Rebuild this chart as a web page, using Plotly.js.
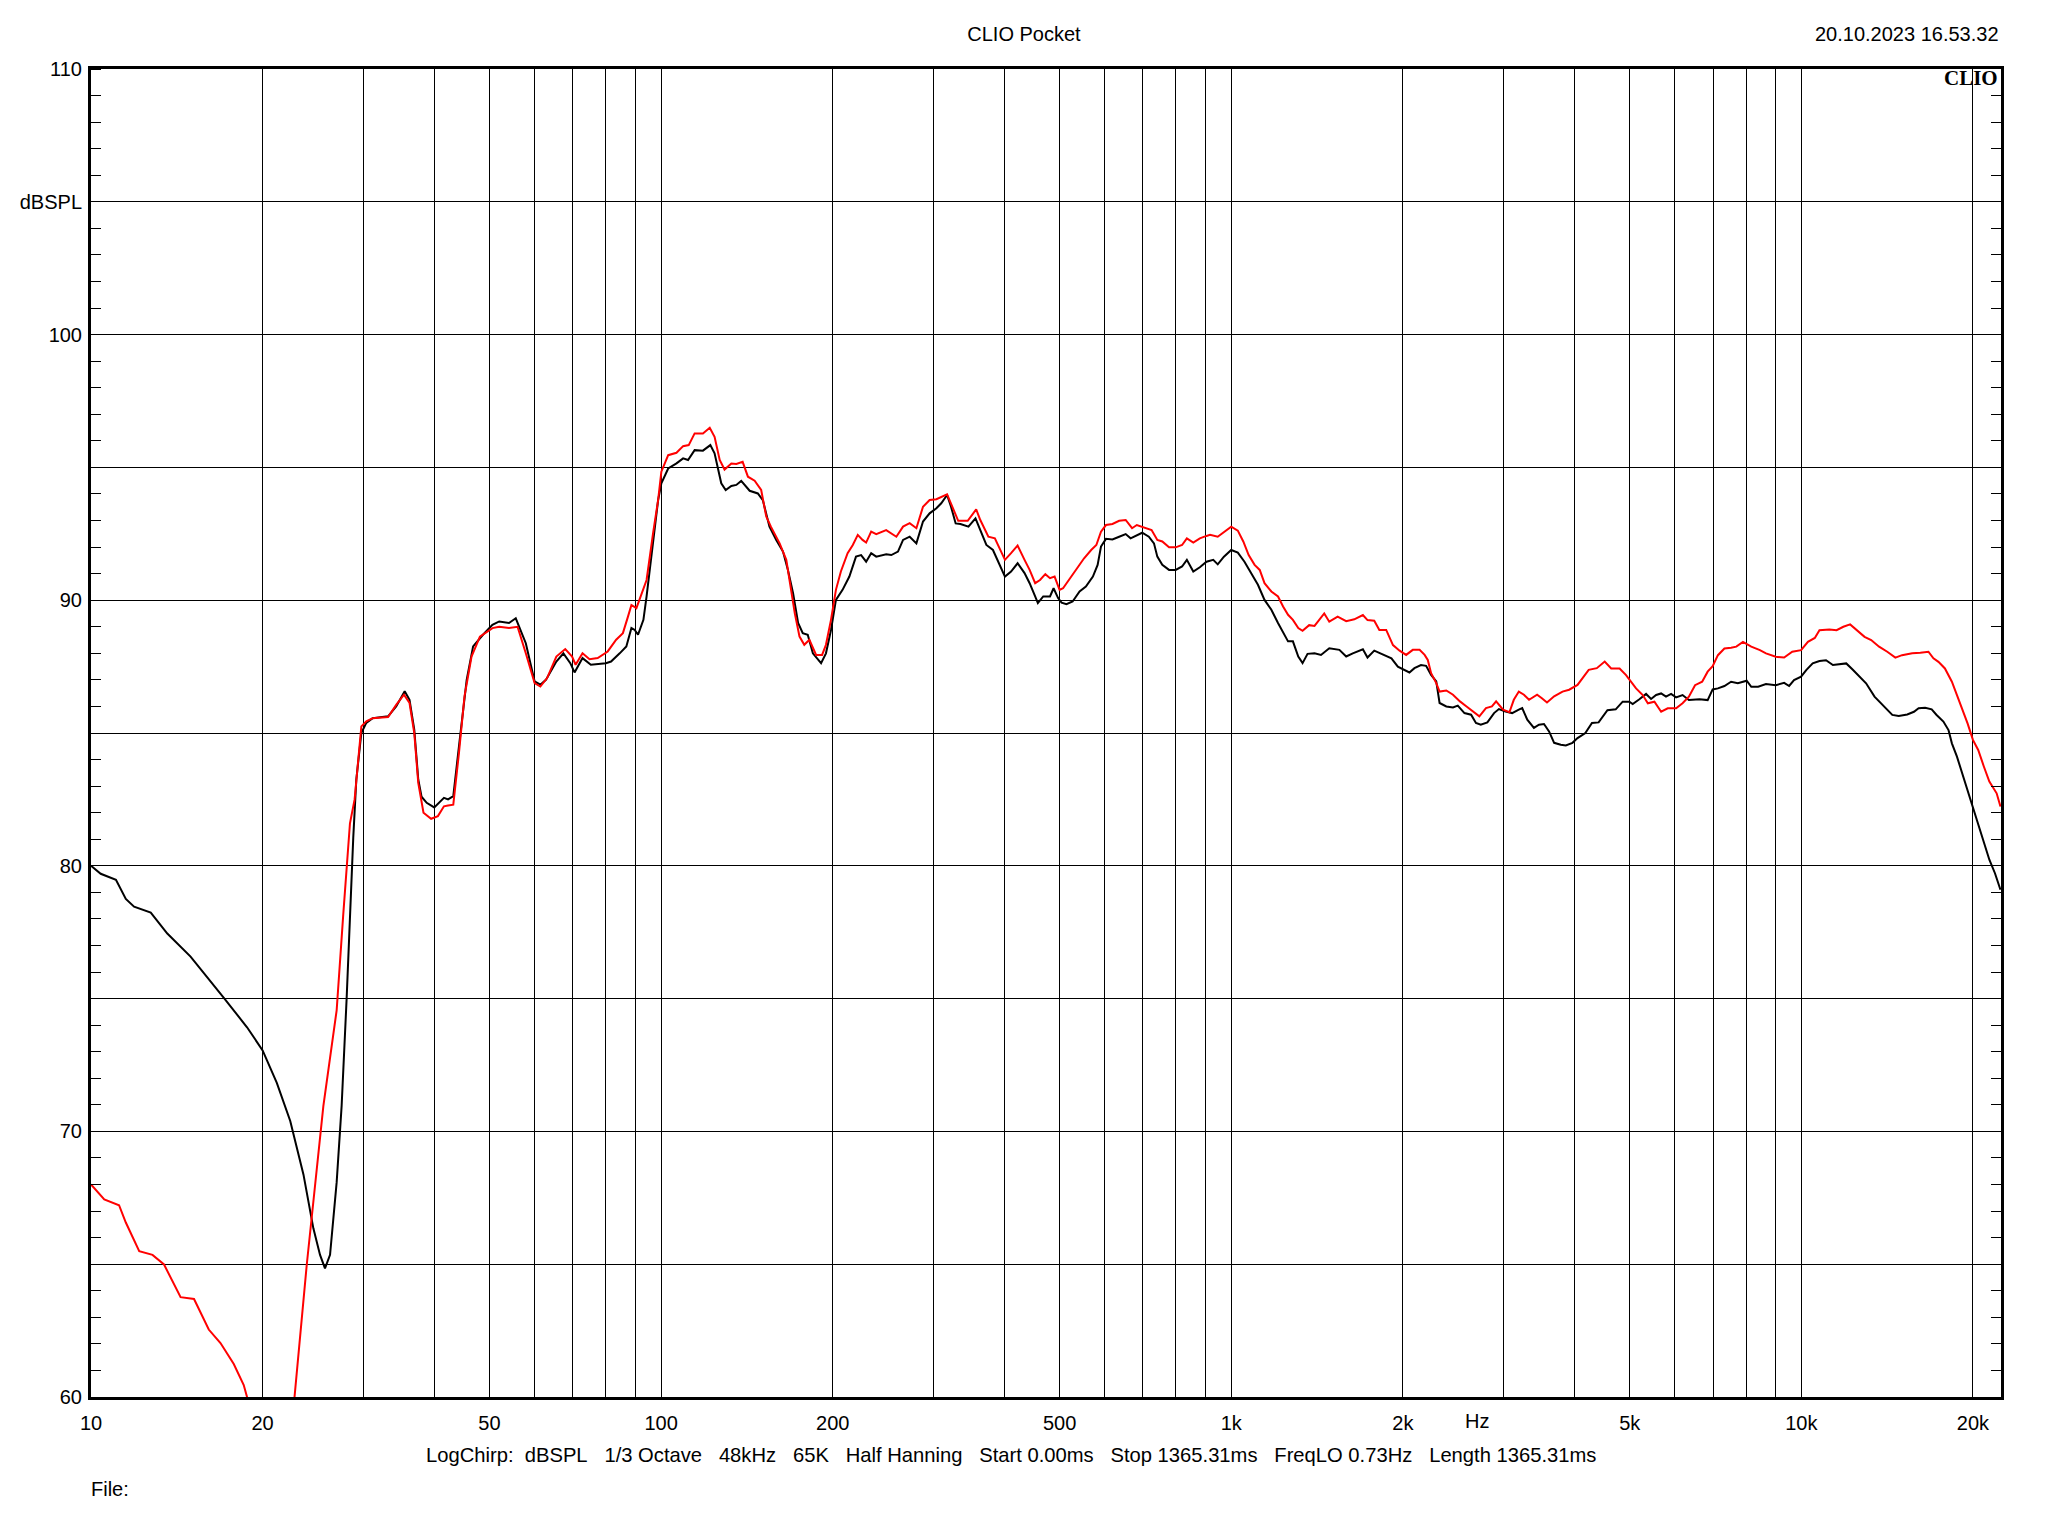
<!DOCTYPE html>
<html>
<head>
<meta charset="utf-8">
<script src="https://cdn.plot.ly/plotly-3.0.1.min.js"></script>
<style>
html,body{margin:0;padding:0;background:#fff;}
#chart{width:2048px;height:1536px;}
</style>
</head>
<body>
<div id="chart"></div>
<script>
// ---- Data ----
const blackFreq = [10,10.4,11.06,11.51,11.9,12.73,13.61,14.95,17.1,18.78,20,21.18,22.36,23.59,24.55,25.22,25.73,26.26,26.97,27.52,28.08,28.46,28.84,29.2,29.8,30.4,31.2,33.2,34.3,35.5,36.2,36.9,37.5,38,38.8,40,41.6,42.3,43.2,44.2,45.6,46.8,48.7,50.6,52,54.1,55.6,57.9,60,61.4,62.8,65.5,67.4,69.3,70.5,72.8,75.3,80,81.7,84.6,86.9,88.7,89.9,91.1,93.1,94.3,96.8,98.8,100.1,102.9,106.4,109.3,111.5,114.5,118.4,122,124.1,125.8,127.5,129.8,132.8,135.5,138.2,143,147.8,150.8,154.9,159.2,163.6,166.9,170.4,173.9,177.2,180.8,184.6,190.8,194.6,198.6,202.6,208.1,213.9,219.7,224.3,228.9,233.6,238.4,248.2,253.4,260.3,265.7,272.9,280.4,288,295.8,304,310,317.4,322.5,328.6,335,346,356,363,372,382,390,401,411,422,434,443,453,458,468,481,488,497,504,514,527,542,556,572,583,591,603,619,636,653,666,680,698,717,732,742,757,778,799,820,836,858,881,905,930,947,971,1000,1027,1055,1084,1114,1144,1176,1208,1233,1258,1283,1311,1334,1361,1400,1437,1486,1548,1591,1634,1702,1734,1782,1846,1910,1960,2000,2054,2096,2152,2197,2242,2289,2320,2384,2449,2497,2565,2635,2687,2740,2814,2891,2948,3028,3110,3195,3239,3306,3396,3466,3537,3610,3685,3785,3863,3968,4050,4180,4293,4410,4570,4725,4860,4993,5061,5199,5342,5451,5563,5677,5790,5910,6030,6190,6350,6630,6850,6990,7140,7330,7530,7740,8020,8170,8400,8670,9020,9330,9520,9710,9990,10200,10470,10760,11050,11360,11670,11990,12300,12640,12990,13440,13780,14060,14440,14820,15340,15760,16060,16490,16930,17270,17750,18120,18370,18750,19150,19570,20000,20430,20900,21370,21860,22180,22350];
const blackDb = [80.0,79.7,79.47,78.75,78.46,78.24,77.45,76.58,75.03,73.92,73.05,71.83,70.39,68.37,66.35,65.35,64.84,65.35,68.08,70.97,75.0,78.17,81.05,83.25,85.0,85.38,85.56,85.63,86.0,86.57,86.25,85.13,83.25,82.6,82.37,82.2,82.56,82.5,82.62,84.5,87.0,88.26,88.7,89.07,89.2,89.14,89.32,88.38,86.94,86.82,87.0,87.69,88.0,87.63,87.28,87.82,87.57,87.63,87.69,88.0,88.26,88.95,88.88,88.7,89.26,90.14,92.14,93.77,94.4,94.96,95.15,95.34,95.28,95.65,95.63,95.84,95.53,94.9,94.4,94.15,94.3,94.34,94.49,94.12,94.02,93.77,92.77,92.27,91.83,91.14,90.26,89.14,88.76,88.7,88.0,87.63,88.0,88.88,90.01,90.39,90.89,91.64,91.7,91.45,91.77,91.64,91.73,91.7,91.83,92.27,92.39,92.14,92.96,93.27,93.46,93.65,93.96,93.52,92.89,92.87,92.77,93.08,92.64,92.08,91.89,91.45,90.89,91.08,91.39,91.02,90.64,90.14,89.89,90.14,90.14,90.45,90.08,89.91,89.85,89.95,90.33,90.51,90.89,91.33,92.02,92.31,92.29,92.39,92.49,92.33,92.42,92.54,92.39,92.14,91.64,91.33,91.14,91.14,91.27,91.52,91.08,91.24,91.45,91.52,91.35,91.64,91.89,91.79,91.45,91.02,90.58,90.01,89.64,89.14,88.76,88.45,88.45,87.88,87.63,87.98,88.0,87.94,88.19,88.13,87.88,88.0,88.15,87.84,88.1,87.96,87.81,87.5,87.4,87.28,87.44,87.56,87.53,87.19,86.94,86.13,86.0,85.96,86.03,85.75,85.69,85.38,85.31,85.4,85.75,85.9,85.81,85.75,85.88,85.94,85.5,85.19,85.31,85.34,85.06,84.63,84.56,84.53,84.63,84.81,85.0,85.38,85.4,85.86,85.89,86.18,86.18,86.09,86.27,86.47,86.28,86.43,86.49,86.37,86.47,86.34,86.43,86.24,86.27,86.24,86.64,86.68,86.77,86.93,86.87,86.97,86.74,86.74,86.84,86.8,86.89,86.77,86.99,87.12,87.37,87.62,87.71,87.74,87.56,87.59,87.62,87.39,87.12,86.87,86.37,86.12,85.93,85.68,85.64,85.7,85.8,85.93,85.95,85.89,85.68,85.43,85.11,84.61,84.11,83.48,82.86,82.23,81.6,80.85,80.23,79.72,79.29,79.1];

const redFreq = [10,10.55,11.2,11.51,12.15,12.82,13.43,14.36,15.16,16.09,16.87,17.8,18.53,18.78,19.5,21.0,22.75,23.9,25.56,26.97,27.7,28.46,29.0,29.8,30.4,31.2,33.2,34.3,35.4,36.2,36.9,37.5,38.3,39.5,40.6,41.6,42.3,43.2,44.2,45.2,46.5,48.1,50.6,52,54.1,56,57.9,60,61.4,63.1,65.5,67.9,69.8,70.8,72.8,74.9,77.4,80.6,83.4,85.7,87.5,88.7,90.5,92.4,94.3,96.8,98.8,100.1,102.9,106.4,109.3,111.8,114.5,118.4,121.7,124.1,126.7,129.2,132.8,135.5,139,142,145.9,149.8,152.9,155.8,161.4,165.8,169.2,171.6,174.9,178.3,182,187,191.6,194.6,198.6,202.6,206.7,212.4,216.9,221.3,225.6,228.9,233.6,238.4,248.2,258.6,265.7,272.9,280.4,288,295.8,304,317.4,322.5,332,345,357,363,375,385,393,401,411,422,434,443,453,462,472,481,490,500,507,524,538,552,568,580,591,603,619,636,653,670,683,709,725,742,757,778,799,820,836,858,881,905,918,947,971,1000,1027,1050,1073,1099,1122,1144,1176,1208,1233,1258,1283,1311,1334,1370,1400,1428,1456,1486,1537,1591,1644,1702,1734,1782,1819,1870,1922,1974,2027,2082,2140,2184,2212,2242,2289,2320,2384,2449,2519,2587,2653,2724,2798,2866,2915,2998,3076,3131,3195,3262,3330,3440,3507,3580,3685,3812,3915,4050,4155,4237,4378,4520,4640,4800,4927,5027,5130,5270,5380,5525,5677,5830,6030,6190,6350,6510,6700,6850,6990,7140,7330,7530,7690,7900,8170,8460,8670,9020,9330,9640,9990,10270,10560,10760,11200,11530,11850,12180,12500,12910,13260,13690,14150,14620,15020,15650,16170,16710,17050,17400,17860,18370,18750,19150,19570,20000,20430,20900,21370,22010,22350];
const redDb = [68.0,67.44,67.22,66.57,65.49,65.35,64.99,63.76,63.69,62.54,62.03,61.24,60.45,60.0,58.5,56.5,60.0,64.97,70.95,74.56,78.17,81.6,82.5,85.25,85.44,85.56,85.6,86.06,86.44,86.13,85.0,83.12,82.0,81.77,81.87,82.24,82.27,82.3,84.25,86.38,87.88,88.63,88.95,89.0,88.95,89.0,88.0,86.88,86.75,87.07,87.88,88.16,87.88,87.57,88.0,87.78,87.82,88.07,88.51,88.76,89.39,89.82,89.7,90.26,90.76,92.52,93.77,94.84,95.46,95.55,95.8,95.84,96.28,96.28,96.49,96.15,95.28,94.92,95.15,95.13,95.21,94.65,94.5,94.15,93.15,92.77,92.14,91.52,90.39,89.51,88.63,88.32,88.51,87.94,87.94,88.32,89.26,90.39,91.08,91.77,92.08,92.46,92.27,92.17,92.58,92.49,92.64,92.39,92.77,92.9,92.71,93.52,93.77,93.8,93.99,93.65,92.99,92.99,93.42,93.02,92.39,92.33,91.95,91.52,91.77,92.06,91.52,91.14,90.64,90.76,90.98,90.83,90.89,90.39,90.45,90.89,91.27,91.58,91.89,92.08,92.58,92.83,92.87,92.99,93.02,92.71,92.83,92.71,92.64,92.27,92.21,91.99,91.99,92.08,92.33,92.17,92.33,92.42,92.46,92.39,92.58,92.77,92.62,92.21,91.7,91.33,91.14,90.64,90.33,90.14,89.76,89.45,89.26,88.95,88.85,89.06,89.03,89.25,89.5,89.19,89.38,89.21,89.28,89.44,89.25,89.23,88.88,88.88,88.31,88.1,87.94,88.13,88.13,87.94,87.75,87.25,86.88,86.56,86.6,86.44,86.19,86.0,85.81,85.63,85.94,86.0,86.19,85.88,85.78,86.25,86.56,86.44,86.25,86.44,86.31,86.15,86.38,86.56,86.63,86.81,87.13,87.38,87.44,87.69,87.43,87.43,87.18,86.93,86.68,86.43,86.12,86.18,85.8,85.93,85.93,86.12,86.37,86.8,86.93,87.31,87.52,87.93,88.18,88.21,88.25,88.43,88.25,88.12,88.0,87.87,87.84,88.06,88.12,88.43,88.58,88.87,88.9,88.87,89.0,89.09,88.87,88.62,88.5,88.25,88.06,87.84,87.93,88.0,88.02,88.06,87.81,87.68,87.43,86.93,86.43,85.93,85.36,84.74,84.36,83.74,83.17,82.73,82.23];

const xGridVals = [10,20,30,40,50,60,70,80,90,100,200,300,400,500,600,700,800,900,1000,2000,3000,4000,5000,6000,7000,8000,9000,10000,20000];
const xGridText = ['10','20','','','50','','','','','100','200','','','500','','','','','1k','2k','','','5k','','','','','10k','20k'];
const yTickVals = [60,65,70,75,80,85,90,95,100,105,110];
const yTickText = ['60','','70','','80','','90','','100','dBSPL','110'];

const titleText = 'CLIO Pocket';
const dateText = '20.10.2023 16.53.32';
const logoText = 'CLIO';
const unitText = 'Hz';
const infoText = 'LogChirp:  dBSPL   1/3 Octave   48kHz   65K   Half Hanning   Start 0.00ms   Stop 1365.31ms   FreqLO 0.73Hz   Length 1365.31ms';
const fileText = 'File:';

const FONT = 'Liberation Sans, Arial, sans-serif';
const nb = s => s.replace(/ /g, '\u00A0');

const traces = [
  {x: blackFreq, y: blackDb, type: 'scatter', mode: 'lines', line: {color: '#000000', width: 2}, hoverinfo: 'skip', showlegend: false},
  {x: redFreq, y: redDb, type: 'scatter', mode: 'lines', line: {color: '#ff0000', width: 2}, hoverinfo: 'skip', showlegend: false},
  {x: [], y: [], yaxis: 'y2', type: 'scatter', mode: 'lines', showlegend: false, hoverinfo: 'skip'}
];

const layout = {
  width: 2048, height: 1536,
  paper_bgcolor: '#ffffff', plot_bgcolor: '#ffffff',
  margin: {l: 91, r: 47, t: 69, b: 139, pad: 0},
  font: {family: FONT, size: 20, color: '#000'},
  showlegend: false,
  title: {text: titleText, x: 0.5, xref: 'container', xanchor: 'center', y: 1 - 34/1536, yref: 'container', yanchor: 'middle', font: {family: FONT, size: 20, color: '#000'}},
  xaxis: {
    type: 'log', range: [1, Math.log10(22400)],
    tickmode: 'array', tickvals: xGridVals, ticktext: xGridText,
    showgrid: true, gridcolor: '#000', gridwidth: 1,
    ticks: '', showline: true, linecolor: '#000', linewidth: 3, mirror: true,
    zeroline: false, tickfont: {family: FONT, size: 20, color: '#000'},
    ticklabelstandoff: 6
  },
  yaxis: {
    range: [60, 110], tickmode: 'array', tickvals: yTickVals, ticktext: yTickText,
    showgrid: true, gridcolor: '#000', gridwidth: 1,
    ticks: '', showline: true, linecolor: '#000', linewidth: 3, mirror: true,
    zeroline: false, tickfont: {family: FONT, size: 20, color: '#000'},
    minor: {dtick: 1, tick0: 60, ticks: 'inside', ticklen: 10, tickcolor: '#000', tickwidth: 1, showgrid: false},
    ticklabelstandoff: 2
  },
  yaxis2: {
    overlaying: 'y', side: 'right', range: [60, 110],
    tickmode: 'linear', tick0: 60, dtick: 1, ticks: 'inside', ticklen: 10, tickcolor: '#000', tickwidth: 1,
    showticklabels: false, showgrid: false, zeroline: false, showline: false
  },
  annotations: [
    {text: dateText, xref: 'paper', yref: 'paper', x: 1, y: 1 + 35/1328, xanchor: 'right', yanchor: 'middle', showarrow: false, font: {family: FONT, size: 20, color: '#000'}},
    {text: '<b>' + logoText + '</b>', xref: 'paper', yref: 'paper', x: 0.9995, y: 1 - 9/1328, xanchor: 'right', yanchor: 'middle', showarrow: false, font: {family: 'Liberation Serif, Times New Roman, serif', size: 21, color: '#000'}},
    {text: unitText, xref: 'x', yref: 'paper', x: Math.log10(2700), y: -24/1328, xanchor: 'center', yanchor: 'middle', showarrow: false, font: {family: FONT, size: 20, color: '#000'}},
    {text: nb(infoText), xref: 'paper', yref: 'paper', x: (1011-91.4)/1909.6, y: -58/1328, xanchor: 'center', yanchor: 'middle', showarrow: false, font: {family: FONT, size: 20.2, color: '#000'}},
    {text: fileText, xref: 'paper', yref: 'paper', x: -0.001, y: -92/1328, xanchor: 'left', yanchor: 'middle', showarrow: false, font: {family: FONT, size: 20, color: '#000'}}
  ]
};

Plotly.newPlot('chart', traces, layout, {staticPlot: true, displayModeBar: false});
</script>
</body>
</html>
